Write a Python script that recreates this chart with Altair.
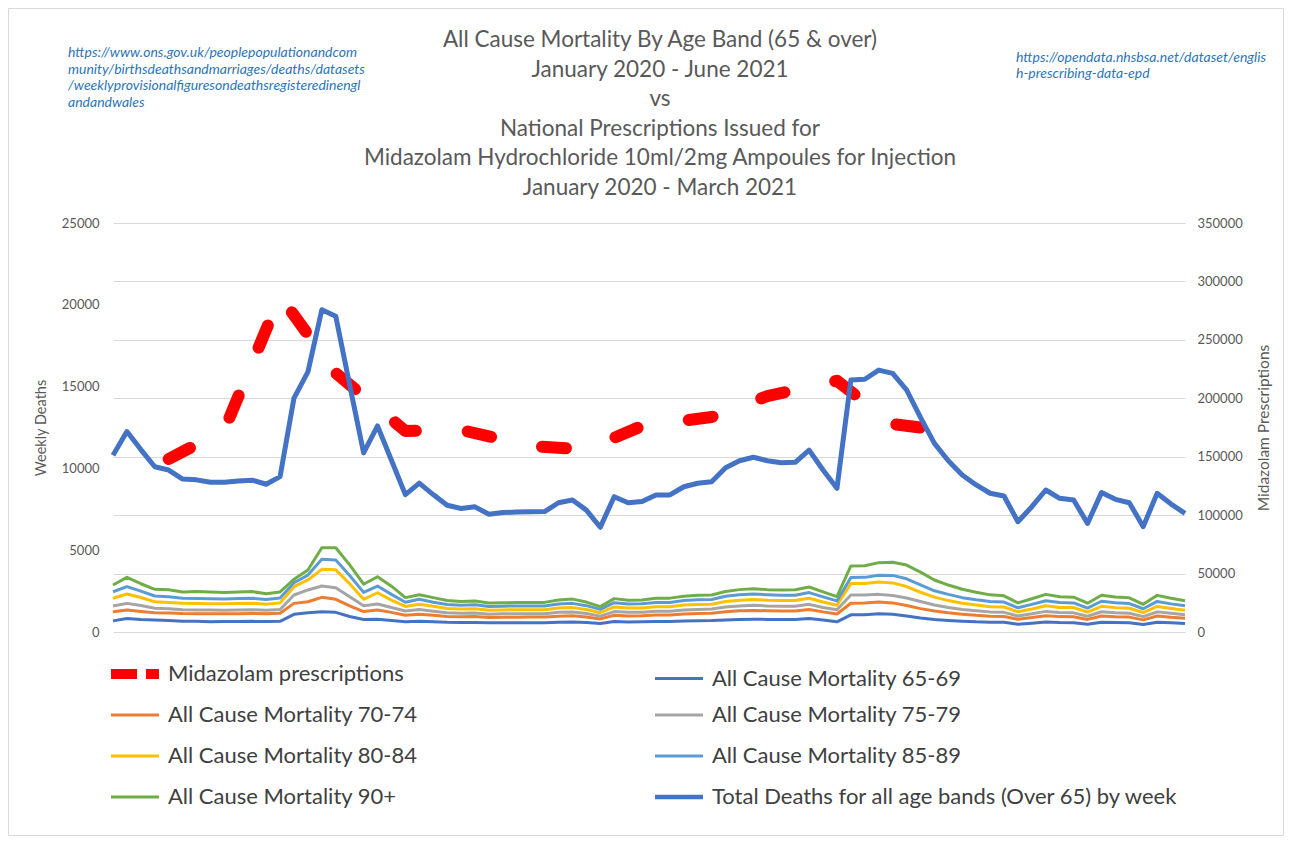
import altair as alt
import pandas as pd

# ---------------- data ----------------
weeks = list(range(78))

total_deaths = [10800, 12250, 11150, 10100, 9900, 9350, 9300, 9150, 9150, 9230,
                9280, 9030, 9500, 14300, 15900, 19700, 19300, 15100, 10950, 12600,
                10500, 8400, 9100, 8400, 7750, 7550, 7650, 7200, 7300, 7330,
                7350, 7360, 7900, 8070, 7450, 6400, 8270, 7900, 7970, 8370,
                8380, 8880, 9090, 9190, 10040, 10470, 10680, 10470, 10350, 10370,
                11120, 9900, 8780, 15400, 15450, 16010, 15810, 14800, 13120, 11530,
                10470, 9600, 8990, 8480, 8310, 6740, 7660, 8680, 8170, 8070,
                6640, 8520, 8110, 7900, 6440, 8480, 7820, 7250]

age_65_69 = [680, 830, 760, 730, 710, 660, 650, 630, 640, 640,
             650, 640, 650, 1080, 1180, 1240, 1200, 950, 760, 780,
             700, 620, 660, 620, 590, 580, 580, 560, 570, 570,
             570, 570, 600, 610, 580, 520, 640, 610, 620, 640,
             640, 670, 690, 700, 740, 770, 780, 770, 760, 760,
             830, 740, 620, 1050, 1060, 1120, 1080, 980, 860, 770,
             710, 660, 620, 600, 590, 480, 540, 610, 580, 570,
             470, 600, 580, 560, 460, 600, 560, 520]

age_70_74 = [1240, 1350, 1260, 1180, 1160, 1130, 1120, 1110, 1120, 1120,
             1130, 1110, 1150, 1750, 1850, 2120, 2000, 1600, 1250, 1350,
             1200, 1020, 1080, 1020, 950, 930, 940, 890, 900, 900,
             910, 910, 970, 990, 920, 800, 1020, 980, 990, 1040,
             1040, 1100, 1130, 1140, 1240, 1300, 1320, 1300, 1280, 1280,
             1380, 1230, 1100, 1760, 1770, 1830, 1780, 1620, 1430, 1280,
             1170, 1090, 1020, 970, 950, 780, 880, 1000, 940, 930,
             770, 980, 930, 910, 740, 980, 900, 840]

age_75_79 = [1590, 1750, 1620, 1450, 1420, 1360, 1350, 1340, 1330, 1340,
             1360, 1330, 1380, 2260, 2570, 2810, 2710, 2150, 1600, 1710,
             1500, 1280, 1380, 1270, 1170, 1140, 1160, 1090, 1110, 1110,
             1110, 1120, 1200, 1220, 1130, 970, 1250, 1200, 1210, 1270,
             1270, 1350, 1380, 1400, 1530, 1590, 1630, 1590, 1570, 1580,
             1690, 1500, 1360, 2260, 2260, 2300, 2230, 2080, 1860, 1650,
             1500, 1380, 1300, 1230, 1200, 980, 1110, 1260, 1190, 1170,
             960, 1240, 1180, 1150, 940, 1230, 1140, 1050]

age_80_84 = [2060, 2320, 2110, 1850, 1800, 1750, 1740, 1720, 1730, 1740,
             1760, 1700, 1780, 2770, 3180, 3830, 3800, 2950, 2000, 2400,
             1950, 1560, 1700, 1570, 1440, 1400, 1420, 1330, 1350, 1360,
             1360, 1360, 1460, 1490, 1380, 1180, 1530, 1460, 1470, 1550,
             1550, 1650, 1680, 1700, 1860, 1940, 1980, 1940, 1920, 1920,
             2060, 1830, 1640, 2960, 2970, 3050, 3000, 2780, 2430, 2130,
             1920, 1760, 1650, 1550, 1530, 1240, 1410, 1600, 1500, 1490,
             1220, 1570, 1490, 1450, 1190, 1560, 1440, 1330]

age_85_89 = [2460, 2770, 2500, 2200, 2150, 2060, 2050, 2030, 2020, 2050,
             2060, 1990, 2080, 3010, 3480, 4440, 4400, 3450, 2420, 2810,
             2300, 1820, 2000, 1820, 1680, 1640, 1660, 1560, 1580, 1590,
             1590, 1590, 1710, 1750, 1610, 1380, 1790, 1710, 1720, 1810,
             1810, 1920, 1970, 1990, 2190, 2280, 2320, 2280, 2250, 2250,
             2410, 2150, 1900, 3330, 3340, 3470, 3460, 3250, 2880, 2520,
             2300, 2100, 1970, 1860, 1830, 1480, 1690, 1910, 1800, 1780,
             1460, 1880, 1790, 1740, 1420, 1870, 1720, 1600]

age_90_plus = [2870, 3340, 2950, 2610, 2580, 2450, 2470, 2440, 2420, 2440,
               2470, 2340, 2450, 3220, 3790, 5150, 5150, 4100, 2920, 3380,
               2800, 2100, 2280, 2100, 1930, 1870, 1890, 1770, 1790, 1800,
               1810, 1810, 1960, 2010, 1830, 1550, 2040, 1940, 1960, 2060,
               2070, 2190, 2240, 2260, 2480, 2590, 2650, 2590, 2570, 2580,
               2750, 2450, 2160, 4040, 4050, 4240, 4260, 4090, 3660, 3180,
               2870, 2610, 2430, 2270, 2210, 1780, 2030, 2300, 2160, 2130,
               1760, 2250, 2140, 2090, 1690, 2240, 2060, 1910]

# Midazolam: monthly totals, placed at the last week of each month
midazolam_weeks = [4, 8, 12, 16, 21, 25, 30, 34, 38, 43, 47, 52, 56, 60]
midazolam_values = [148000, 172900, 287500, 221600, 172000, 172900, 159200,
                    156200, 176300, 184000, 201900, 215000, 178000, 172000]

series_names = ["Midazolam prescriptions",
                "All Cause Mortality 65-69",
                "All Cause Mortality 70-74",
                "All Cause Mortality 75-79",
                "All Cause Mortality 80-84",
                "All Cause Mortality 85-89",
                "All Cause Mortality 90+",
                "Total Deaths for all age bands (Over 65) by week"]
series_colors = ["#FF0000", "#4472C4", "#ED7D31", "#A5A5A5",
                 "#FFC000", "#5B9BD5", "#70AD47", "#4472C4"]

title_lines = ["All Cause Mortality By Age Band (65 & over)",
               "January 2020 - June 2021",
               "vs",
               "National Prescriptions Issued for",
               "Midazolam Hydrochloride 10ml/2mg Ampoules for Injection",
               "January 2020 - March 2021"]

link_left = ["https://www.ons.gov.uk/peoplepopulationandcom",
             "munity/birthsdeathsandmarriages/deaths/datasets",
             "/weeklyprovisionalfiguresondeathsregisteredinengl",
             "andandwales"]
link_right = ["https://opendata.nhsbsa.net/dataset/englis",
              "h-prescribing-data-epd"]

# ---------------- tables ----------------
band_arrays = [age_65_69, age_70_74, age_75_79, age_80_84, age_85_89, age_90_plus]
band_rows = []
for name, arr in zip(series_names[1:7], band_arrays):
    for w, v in zip(weeks, arr):
        band_rows.append({"week": w, "deaths": v, "series": name})
band_df = pd.DataFrame(band_rows)
total_df = pd.DataFrame({"week": weeks, "deaths": total_deaths,
                         "series": series_names[7]})
mid_df = pd.DataFrame({"week": midazolam_weeks, "prescriptions": midazolam_values,
                       "series": series_names[0]})

FONT = "Lato"
GREY = "#595959"

legend = alt.Legend(
    title=None, orient="none", legendX=11, legendY=440, columns=2,
    direction="horizontal", gridAlign="all",
    symbolType="stroke", symbolSize=2304,
    symbolStrokeWidth={"expr": "datum.value == 'Midazolam prescriptions' ? 10 : (datum.value == 'Total Deaths for all age bands (Over 65) by week' ? 4.5 : 3)"},
    symbolDash={"expr": "datum.value == 'Midazolam prescriptions' ? [26, 9] : [1, 0]"},
    labelFont=FONT, labelFontSize=22, labelColor="#404040", labelLimit=1000,
    labelOffset=22, columnPadding=11, rowPadding=10,
)
color = alt.Color("series:N",
                  scale=alt.Scale(domain=series_names, range=series_colors),
                  legend=legend)

x_enc = alt.X("week:Q", scale=alt.Scale(domain=[0, 77], nice=False, zero=False), axis=None)

left_axis = alt.Axis(orient="left", values=list(range(0, 25001, 5000)), grid=False,
                     format="d", title="Weekly Deaths", labelPadding=14,
                     titlePadding=13, titleFontSize=14.5)
right_axis = alt.Axis(orient="right", values=list(range(0, 350001, 50000)), grid=True,
                      format="d", gridColor="#D9D9D9", gridWidth=1,
                      title="Midazolam Prescriptions", labelPadding=12,
                      titlePadding=29, titleAngle=270, titleFontSize=15.5)

mid_layer = alt.Chart(mid_df).mark_line(
    strokeWidth=12, strokeDash=[24, 52], strokeCap="round", strokeJoin="round"
).encode(
    x=x_enc,
    y=alt.Y("prescriptions:Q", scale=alt.Scale(domain=[0, 350000], nice=False),
            axis=right_axis),
    color=color,
)

y_left = alt.Y("deaths:Q", scale=alt.Scale(domain=[0, 25000], nice=False), axis=left_axis)

band_layer = alt.Chart(band_df).mark_line(strokeWidth=3, strokeJoin="round").encode(
    x=x_enc, y=y_left, color=color)
total_layer = alt.Chart(total_df).mark_line(strokeWidth=5, strokeJoin="round").encode(
    x=x_enc, y=y_left, color=color)

deaths_layers = alt.layer(band_layer, total_layer)

one = pd.DataFrame({"k": [0]})

frame = alt.Chart(one).mark_rect(
    fillOpacity=0, stroke="#D9D9D9", strokeWidth=1
).encode(x=alt.value(-104.5), x2=alt.value(1170.5),
         y=alt.value(-214.5), y2=alt.value(612.5))

title_text = alt.Chart(one).mark_text(
    text=title_lines, align="center", baseline="top", font=FONT, fontSize=22.5,
    color=GREY, lineHeight=29.6
).encode(x=alt.value(547), y=alt.value(-194))

link_l = alt.Chart(one).mark_text(
    text=link_left, align="left", baseline="top", font=FONT, fontSize=14,
    fontStyle="italic", color="#2E75B6", lineHeight=16.7
).encode(x=alt.value(-45), y=alt.value(-177))

link_r = alt.Chart(one).mark_text(
    text=link_right, align="left", baseline="top", font=FONT, fontSize=14,
    fontStyle="italic", color="#2E75B6", lineHeight=16
).encode(x=alt.value(903), y=alt.value(-172))

chart = alt.layer(frame, mid_layer, deaths_layers, title_text, link_l, link_r).resolve_scale(
    y="independent"
).properties(
    width=1072, height=409,
    autosize=alt.AutoSizeParams(type="none"),
    padding={"left": 105, "top": 215, "right": 100, "bottom": 205},
).configure_view(stroke=None).configure_axis(
    domain=False, ticks=False, labelFont=FONT, labelFontSize=13, labelColor=GREY,
    titleFont=FONT, titleColor=GREY, titleFontWeight="normal",
)

chart.save("out.html", embed_options={"renderer": "svg", "actions": False})
